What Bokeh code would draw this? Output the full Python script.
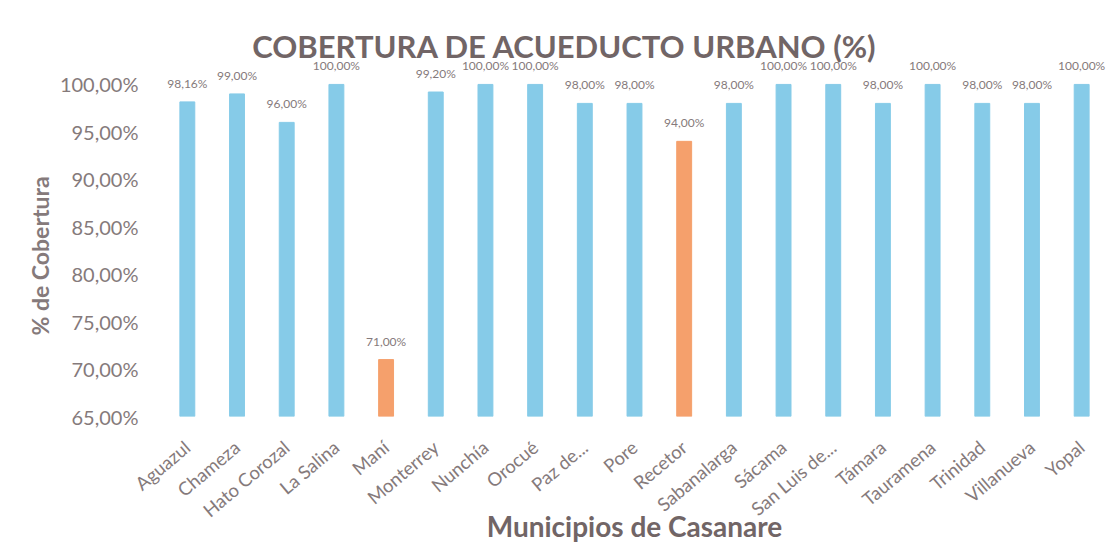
from bokeh.plotting import figure
from bokeh.models import (ColumnDataSource, FixedTicker, Range1d, Label,
                          CustomJSTickFormatter, Title)
from bokeh.core.properties import value
from bokeh.embed import file_html
from bokeh.resources import INLINE

municipios = ["Aguazul", "Chameza", "Hato Corozal", "La Salina", "Maní", "Monterrey",
              "Nunchía", "Orocué", "Paz de...", "Pore", "Recetor", "Sabanalarga",
              "Sácama", "San Luis de...", "Támara", "Tauramena", "Trinidad",
              "Villanueva", "Yopal"]
cobertura = [98.16, 99.00, 96.00, 100.00, 71.00, 99.20, 100.00, 100.00, 98.00, 98.00,
             94.00, 98.00, 100.00, 100.00, 98.00, 100.00, 98.00, 98.00, 100.00]
destacados = ["Maní", "Recetor"]
y_ticks = [65, 70, 75, 80, 85, 90, 95, 100]

BLUE = "#86cbe8"
ORANGE = "#f5a06c"
TXT = "#857a7b"
TITLE_C = "#716566"
FONT = "Lato"

n = len(municipios)
pos = [i + 0.5 for i in range(n)]  # slot centre of each municipality
colors = [ORANGE if m in destacados else BLUE for m in municipios]
labels = [("%.2f" % v).replace(".", ",") + "%" for v in cobertura]
src = ColumnDataSource(dict(x=pos, name=municipios, top=cobertura, color=colors, label=labels))

p = figure(width=1106, height=545, x_range=Range1d(0, n),
           y_range=Range1d(65, 106), output_backend="svg", toolbar_location=None,
           min_border_left=162, min_border_right=0, min_border_top=27, min_border_bottom=129)
p.outline_line_color = None
p.grid.grid_line_color = None

p.vbar(x="x", top="top", bottom=65, width=0.3, color="color", source=src)
p.text(x="x", y="top", text="label", source=src, y_offset=-11,
       text_align="center", text_baseline="bottom", text_font=value(FONT),
       text_font_size="12px", text_color=TXT)

# y axis
ya = p.yaxis[0]
ya.ticker = FixedTicker(ticks=y_ticks)
ya.formatter = CustomJSTickFormatter(code="return tick.toFixed(2).replace('.', ',') + '%';")
ya.axis_line_color = None
ya.major_tick_line_color = None
ya.minor_tick_line_color = None
ya.major_tick_out = 0
ya.major_label_standoff = 24
ya.major_label_text_font = FONT
ya.major_label_text_font_size = "20px"
ya.major_label_text_color = TXT

ytitle = Title(text="% de Cobertura", align="left", offset=81, text_font=FONT,
               text_font_style="bold", text_font_size="23px", text_color=TXT, standoff=6)
p.add_layout(ytitle, "left")

# x axis: municipality names
xa = p.xaxis[0]
xa.ticker = FixedTicker(ticks=pos)
xa.formatter = CustomJSTickFormatter(args=dict(names=municipios),
                                     code="return names[Math.floor(tick)];")
xa.axis_line_color = None
xa.major_tick_line_color = None
xa.minor_tick_line_color = None
xa.major_tick_out = 0
xa.major_label_standoff = 28
xa.major_label_orientation = 0.70
xa.major_label_text_font = FONT
xa.major_label_text_font_size = "18.5px"
xa.major_label_text_color = TXT
xa.axis_label = "Municipios de Casanare"
xa.axis_label_text_font = FONT
xa.axis_label_text_font_style = "bold"
xa.axis_label_text_font_size = "28px"
xa.axis_label_text_color = TITLE_C
xa.axis_label_standoff = -24

title = Label(x=8.1, y=104.0, text="COBERTURA DE ACUEDUCTO URBANO (%)",
              text_align="center", text_baseline="middle", text_font=FONT,
              text_font_style="bold", text_font_size="31px", text_color=TITLE_C)
p.add_layout(title)

open("out.html", "w").write(file_html(p, INLINE))
